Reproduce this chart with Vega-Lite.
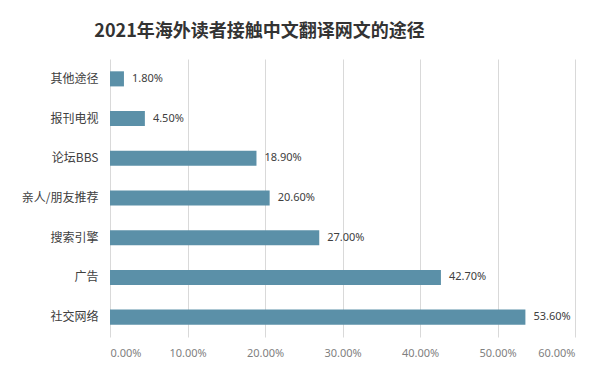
{
  "$schema": "https://vega.github.io/schema/vega-lite/v6.json",
  "autosize": "none",
  "width": 465,
  "height": 278,
  "padding": {"left": 110, "top": 59, "right": 38, "bottom": 37},
  "background": "white",
  "title": {
    "text": "2021年海外读者接触中文翻译网文的途径",
    "font": "Noto Sans CJK SC",
    "fontSize": 18,
    "fontWeight": "bold",
    "color": "#333333",
    "anchor": "middle",
    "dx": -83,
    "offset": 18
  },
  "data": {
    "values": [
      {"途径": "其他途径", "比例": 0.018},
      {"途径": "报刊电视", "比例": 0.045},
      {"途径": "论坛BBS", "比例": 0.189},
      {"途径": "亲人/朋友推荐", "比例": 0.206},
      {"途径": "搜索引擎", "比例": 0.27},
      {"途径": "广告", "比例": 0.427},
      {"途径": "社交网络", "比例": 0.536}
    ]
  },
  "encoding": {
    "y": {
      "field": "途径",
      "type": "nominal",
      "sort": null,
      "scale": {"paddingInner": 0.62, "paddingOuter": 0.31},
      "axis": {
        "title": null,
        "ticks": false,
        "domain": false,
        "labelFont": "Noto Sans CJK SC",
        "labelFontSize": 12,
        "labelColor": "#404040",
        "labelPadding": 12
      }
    },
    "x": {
      "field": "比例",
      "type": "quantitative",
      "scale": {"domain": [0, 0.6]},
      "axis": {
        "title": null,
        "format": ".2%",
        "values": [0, 0.1, 0.2, 0.3, 0.4, 0.5, 0.6],
        "ticks": false,
        "domain": false,
        "grid": true,
        "gridColor": "#d9d9d9",
        "labelColor": "#7f7f7f",
        "labelFont": "Noto Sans",
        "labelFontSize": 11,
        "labelPadding": 10
      }
    }
  },
  "layer": [
    {"mark": {"type": "bar", "color": "#5b90a8"}},
    {
      "mark": {"type": "text", "align": "left", "dx": 8, "font": "Noto Sans", "fontSize": 11, "color": "#404040"},
      "encoding": {"text": {"field": "比例", "type": "quantitative", "format": ".2%"}}
    }
  ],
  "config": {"view": {"stroke": null}}
}
